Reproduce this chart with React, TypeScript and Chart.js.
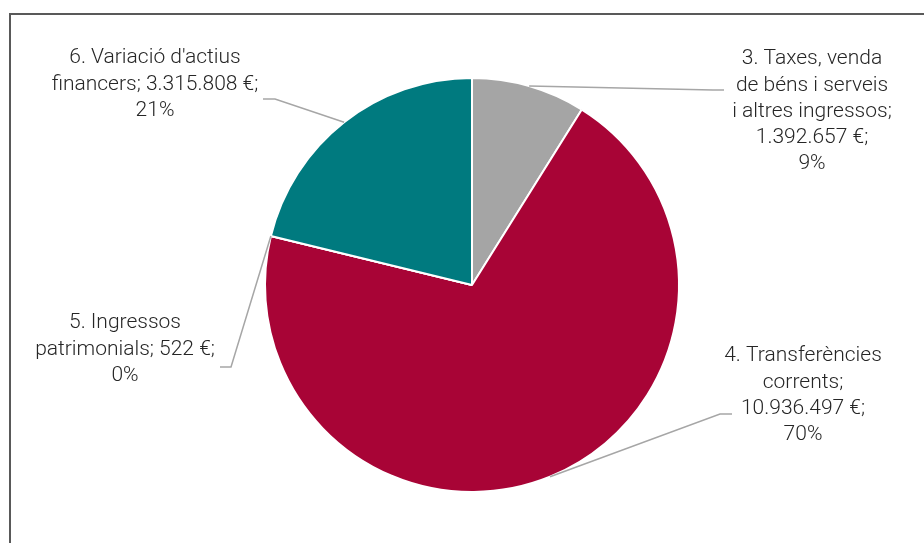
import React, { useEffect, useRef } from "react";
import { Chart, registerables } from "chart.js";
Chart.register(...registerables);

// ---- data ----
const categoryLines: string[][] = [
  ["3. Taxes, venda", "de béns i serveis", "i altres ingressos"],
  ["4. Transferències", "corrents"],
  ["5. Ingressos", "patrimonials"],
  ["6. Variació d'actius", "financers"],
];
const values: number[] = [1392657, 10936497, 522, 3315808];
const valueOnNameLine: boolean[] = [false, false, true, true];
const colors: string[] = ["#A5A5A5", "#A80436", "#E0A800", "#007A7F"];

// ---- label layout (label centre x, first line centre y, elbow, end of leader) ----
const labelCenterX: number[] = [812, 803, 125, 155];
const labelTopY: number[] = [59, 356, 323, 58];
const elbowPts: [number, number][] = [[713, 90], [720, 414], [231, 367], [275, 99]];
const endPts: [number, number][] = [[724, 90], [732, 414], [220, 367], [263, 99]];

const fmt = (n: number) => String(n).replace(/\B(?=(\d{3})+(?!\d))/g, ".");

function buildLabel(i: number, total: number): string[] {
  const lines = categoryLines[i].slice();
  const pct = Math.round((values[i] / total) * 100) + "%";
  const v = fmt(values[i]) + " €;";
  if (valueOnNameLine[i]) {
    lines[lines.length - 1] = lines[lines.length - 1] + "; " + v;
  } else {
    lines[lines.length - 1] = lines[lines.length - 1] + ";";
    lines.push(v);
  }
  lines.push(pct);
  return lines;
}

const FONT = '300 21px Roboto, "Liberation Sans", Arial, sans-serif';
const LINE_H = 26.3;

const labelPlugin = {
  id: "pieLabels",
  afterDraw(chart: any) {
    const ctx = chart.ctx as CanvasRenderingContext2D;
    const meta = chart.getDatasetMeta(0);
    const total = values.reduce((a, b) => a + b, 0);
    ctx.save();
    meta.data.forEach((arc: any, i: number) => {
      const p = arc.getProps(["x", "y", "startAngle", "endAngle", "outerRadius"], true);
      const mid = (p.startAngle + p.endAngle) / 2;
      const sx = p.x + Math.cos(mid) * p.outerRadius;
      const sy = p.y + Math.sin(mid) * p.outerRadius;
      ctx.beginPath();
      ctx.strokeStyle = "#A6A6A6";
      ctx.lineWidth = 1.5;
      ctx.moveTo(sx, sy);
      ctx.lineTo(elbowPts[i][0], elbowPts[i][1]);
      ctx.lineTo(endPts[i][0], endPts[i][1]);
      ctx.stroke();

      const lines = buildLabel(i, total);
      ctx.fillStyle = "#262626";
      ctx.font = FONT;
      ctx.textAlign = "center";
      ctx.textBaseline = "middle";
      lines.forEach((ln, k) => {
        ctx.fillText(ln, labelCenterX[i], labelTopY[i] + k * LINE_H);
      });
    });
    ctx.restore();
  },
};

export default function App() {
  const ref = useRef<HTMLCanvasElement | null>(null);
  useEffect(() => {
    if (!ref.current) return;
    const chart = new Chart(ref.current, {
      type: "pie",
      data: {
        labels: categoryLines.map((l) => l.join(" ")),
        datasets: [
          {
            data: values,
            backgroundColor: colors,
            borderColor: "#FFFFFF",
            borderWidth: 2,
            hoverOffset: 0,
          },
        ],
      },
      options: {
        responsive: false,
        animation: false,
        layout: { padding: { left: 264, top: 77, right: 244, bottom: 50 } },
        plugins: {
          legend: { display: false },
          tooltip: { enabled: false },
        },
      },
      plugins: [labelPlugin],
    });
    return () => chart.destroy();
  }, []);

  return (
    <div
      style={{
        position: "fixed",
        left: 0,
        top: 0,
        width: 924,
        height: 543,
        overflow: "hidden",
        background: "#fff",
      }}
    >
      <div
        style={{
          position: "absolute",
          left: 9,
          top: 13,
          width: 960,
          height: 600,
          border: "2px solid #595959",
          boxSizing: "border-box",
        }}
      />
      <canvas
        ref={ref}
        width={924}
        height={543}
        style={{ position: "absolute", left: 0, top: 0, width: 924, height: 543 }}
      />
    </div>
  );
}
